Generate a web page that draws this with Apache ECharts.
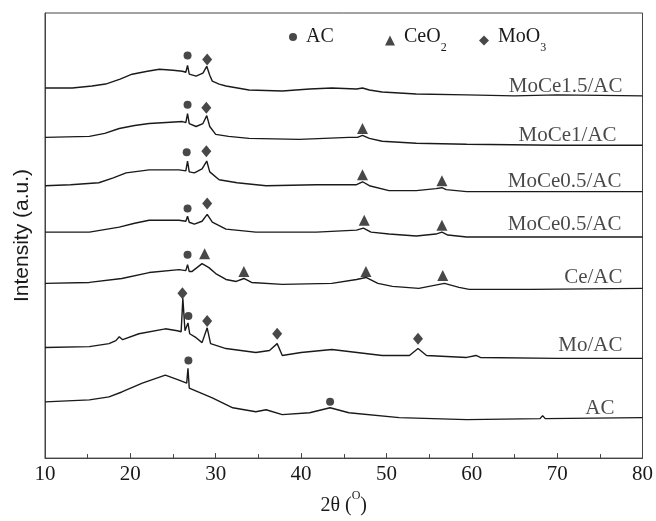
<!DOCTYPE html>
<html>
<head>
<meta charset="utf-8">
<script src="https://cdn.jsdelivr.net/npm/echarts@6/dist/echarts.min.js"></script>
<style>
  html, body { margin: 0; padding: 0; background: #fff; }
  #main { width: 656px; height: 521px; }
</style>
</head>
<body>
<div id="main"></div>
<script>
// XRD patterns, [2theta, intensity (a.u., stacked)]
var moCe15 = [[10,375],[13.2,375],[15.5,377],[17.1,379],[18.8,384],[20.2,389],[22,392],[23.4,394],[25,393],[26.1,392],[26.5,391],[26.7,398],[26.9,389],[27.7,387],[28.5,390],[28.95,397],[29.3,388],[29.6,382],[30.4,379],[31.2,377],[33.9,373],[37.8,372],[41,374],[43.6,375],[46.5,374],[47.2,375],[48,373],[49.5,371],[53.5,369],[59.4,368],[65,367],[70,368],[80,367]];
var moCe1 = [[10,325],[15.2,326],[17,329],[18.7,334],[20.5,337],[22.2,339],[24.2,340],[26.1,341],[26.5,340],[26.7,349],[26.9,339],[27.7,336],[28.5,339],[28.95,347],[29.3,336],[30,328],[31.5,326],[33.9,324],[39.8,323],[45.6,325],[46.6,325],[47.2,327],[48,324],[49.5,321],[53.5,319],[59.4,318],[70,317],[80,317]];
var moCe05a = [[10,276],[13,277],[16.3,279],[18,284],[19.5,289],[22.2,292],[25.7,292],[26.5,291],[26.7,301],[26.9,290],[27.5,289],[28.4,293],[28.95,301],[29.3,290],[30.4,282],[32.5,279],[35.9,276],[41.8,277],[46.5,277],[47.2,280],[48,276],[50.3,271],[53.5,271],[55.8,273],[56.5,274],[57,272],[59.4,270],[70,270],[80,270]];
var moCe05b = [[10,229],[15.2,229],[18.7,234],[20.5,238],[22.2,241],[25.7,241],[26.5,240],[26.7,245],[26.9,239],[27.5,237],[28.4,240],[29.0,247],[29.6,239],[31.2,232],[34.7,229],[41.8,229],[46.5,231],[47.3,233],[48.2,229],[50.3,227],[53.5,225],[55.8,227],[56.5,229],[57.2,226],[59.4,224],[70,224],[80,224]];
var ceAC = [[10,177],[15.2,178],[19.0,182],[22.2,188],[25.7,191],[26.5,190],[26.7,196],[26.9,189],[27.2,189],[28.4,197],[29.2,193],[30.0,187],[31.2,181],[32.4,179],[33.3,182],[34.2,178],[37.8,176],[43.6,177],[46.5,181],[47.6,183],[49,177],[50.7,174],[53.8,172],[56.8,177],[58.5,173],[59.7,171],[67,171],[80,172]];
var moAC = [[10,112],[15.2,113],[17.5,116],[18.3,119],[18.7,123],[19.1,120],[21.0,126],[24.1,131],[25.5,129],[25.95,128],[26.15,162],[26.4,129],[26.75,137],[26.95,126],[27.7,122],[28.4,117],[29.0,132],[29.4,116],[29.6,114],[31.2,111],[34.7,107],[36.3,109],[37.2,116],[37.8,104],[40,107],[43.6,110],[49.5,104],[52.7,104],[53.7,111],[54.7,104],[59.4,102],[60.5,104],[61,102],[70,101],[80,101]];
var acOnly = [[10,57],[15.2,59],[17.5,62],[19.0,67],[21.4,76],[24.1,84],[25.7,79],[26.6,76],[26.75,91],[26.9,71],[27.0,69],[29.6,61],[32.0,51],[34.7,47],[35.9,49],[37.8,44],[41.0,46],[43.4,51],[45.6,46],[51.5,41],[59.4,39],[68.0,40],[68.3,43],[68.6,40],[80,41]];

var traces = [moCe15, moCe1, moCe05a, moCe05b, ceAC, moAC, acOnly];
var sampleNames = ['MoCe1.5/AC', 'MoCe1/AC', 'MoCe0.5/AC', 'MoCe0.5/AC', 'Ce/AC', 'Mo/AC', 'AC'];
// where each sample name sits (right end of text)
var nameX = [77.66, 76.96, 77.54, 77.54, 77.66, 77.66, 76.72];
var nameY = [377, 327, 280, 237, 183, 114, 50];

// phase markers
var acPeaks = [[26.7,408],[26.7,358],[26.6,310],[26.7,253],[26.7,206],[26.8,144],[26.8,99],[43.4,57]];
var ceo2Peaks = [[47.2,334],[47.2,287],[56.5,281],[47.4,241],[56.5,236],[28.7,207],[33.3,189],[47.6,189],[56.6,185]];
var moo3Peaks = [[29.0,404],[28.9,355],[28.9,311],[29.0,258],[26.1,167],[29.0,139],[37.2,126],[53.7,121]];

var serif = 'Liberation Serif';
var ink = '#1a1a1a';

var chart = echarts.init(document.getElementById('main'));

var series = traces.map(function (d, i) {
  return {
    name: 'trace' + i,
    type: 'line',
    data: d,
    symbol: 'none',
    silent: true,
    lineStyle: { color: ink, width: 1.4 },
    z: 2
  };
});

series.push({
  name: 'labels',
  type: 'scatter',
  symbolSize: 0,
  silent: true,
  data: sampleNames.map(function (n, i) { return { name: n, value: [nameX[i], nameY[i]] }; }),
  label: {
    show: true, position: 'left', distance: 0, formatter: '{b}',
    fontFamily: serif, fontSize: 21, color: ink
  }
});

series.push({ name: 'AC', type: 'scatter', symbol: 'circle', symbolSize: 8, data: acPeaks, itemStyle: { color: ink }, z: 5 });
series.push({ name: 'CeO2', type: 'scatter', symbol: 'triangle', symbolSize: 11, data: ceo2Peaks, itemStyle: { color: ink }, z: 5 });
series.push({ name: 'MoO3', type: 'scatter', symbol: 'diamond', symbolSize: [10, 12], data: moo3Peaks, itemStyle: { color: ink }, z: 5 });

function legendItem(name, icon, left, size, label) {
  return {
    data: [name],
    icon: icon,
    left: left,
    top: 22,
    itemWidth: size,
    itemHeight: size,
    itemStyle: { color: ink },
    selectedMode: false,
    formatter: function () { return label; },
    textStyle: {
      fontFamily: serif, fontSize: 20, color: ink, padding: [0, 0, 0, 4],
      rich: {
        n: { fontFamily: serif, fontSize: 20, color: ink, lineHeight: 20, verticalAlign: 'top' },
        sub: { fontFamily: serif, fontSize: 12, color: ink, lineHeight: 27, verticalAlign: 'bottom' }
      }
    }
  };
}

option = {
  backgroundColor: '#fff',
  animation: false,
  grid: {
    left: 45, right: 13, top: 13, bottom: 57,
    show: true, borderColor: '#444', borderWidth: 1
  },
  legend: [
    legendItem('AC', 'circle', 284, 8, '{n|AC}'),
    legendItem('CeO2', 'triangle', 380, 10, '{n|CeO}{sub|2}'),
    legendItem('MoO3', 'diamond', 474, 10, '{n|MoO}{sub|3}')
  ],
  xAxis: {
    type: 'value',
    min: 10, max: 80, interval: 10,
    axisLine: { lineStyle: { color: '#444', width: 1 } },
    axisTick: { inside: true, length: 5, lineStyle: { color: '#444' } },
    minorTick: { show: true, splitNumber: 2, length: 4, lineStyle: { color: '#444' } },
    splitLine: { show: false },
    axisLabel: { fontFamily: serif, fontSize: 21, color: ink, margin: 6 },
    name: '{n|2θ (}{sup|O}{n|)}',
    nameLocation: 'middle',
    nameGap: 27,
    nameTextStyle: {
      fontFamily: serif, fontSize: 20, color: ink,
      rich: {
        n: { fontFamily: serif, fontSize: 20, color: ink, lineHeight: 26, verticalAlign: 'bottom' },
        sup: { fontFamily: serif, fontSize: 12, color: ink, lineHeight: 12, verticalAlign: 'top' }
      }
    }
  },
  yAxis: {
    type: 'value',
    min: 0, max: 451,
    axisLine: { show: true, lineStyle: { color: '#444', width: 1 } },
    axisTick: { show: false },
    axisLabel: { show: false },
    splitLine: { show: false },
    name: 'Intensity (a.u.)',
    nameLocation: 'middle',
    nameGap: 12,
    nameTextStyle: { fontFamily: 'Liberation Sans', fontSize: 21, color: ink }
  },
  series: series
};

chart.setOption(option);
</script>
</body>
</html>
